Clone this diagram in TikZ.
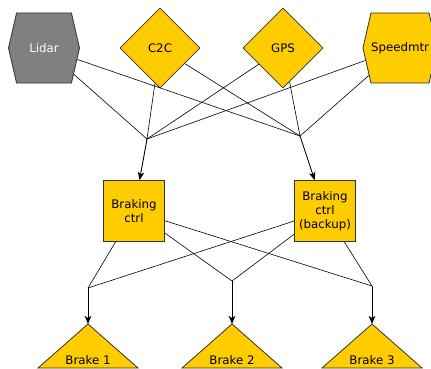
\documentclass[tikz,border=0pt]{standalone}
\usepackage{fontspec}
\setmainfont{DejaVu Sans}
\usetikzlibrary{shapes.geometric,shapes.symbols,arrows.meta}
\definecolor{ylw}{HTML}{FFCC00}
\definecolor{gry}{HTML}{808080}
\definecolor{bord}{HTML}{333333}
\begin{document}
\begin{tikzpicture}[x=1pt,y=-1pt,
  every node/.style={font=\fontsize{11.8}{14}\selectfont, inner sep=0pt},
  sensorhex/.style={shape=signal, signal to=west and east, signal pointer angle=154,
    minimum width=71, minimum height=70, draw=bord, line width=0.8pt},
  diam/.style={diamond, minimum width=80, minimum height=80, aspect=1, fill=ylw, draw=bord, line width=0.8pt},
  ctrl/.style={rectangle, minimum width=61, minimum height=61, fill=ylw, draw=bord, line width=0.8pt, align=center},
  brk/.style={fill=ylw, draw=bord, line width=0.8pt},
  conn/.style={draw=black, line width=0.6pt},
  arr/.style={draw=black, line width=0.9pt, -{Stealth[length=8pt,width=6.5pt,inset=2pt]}}]
\useasboundingbox (0,0) rectangle (431,369);
\clip (0,0) rectangle (431,369);
% sensors
\node[sensorhex, fill=gry, text=white] (lidar) at (44,48) {Lidar};
\node[diam] (c2c) at (160,48) {C2C};
\node[diam] (gps) at (283,48) {GPS};
\node[sensorhex, fill=ylw] (speed) at (400,48) {Speedmtr};
% junctions
\coordinate (j1) at (147,139);
\coordinate (j2) at (300,136);
\coordinate (j3) at (88,288);
\coordinate (j4) at (232,281);
\coordinate (j5) at (372,286);
% controllers
\node[ctrl] (bc) at (134,211) {Braking\\ctrl};
\node[ctrl] (bb) at (325,211) {Braking\\ctrl\\(backup)};
% brakes
\coordinate (b1top) at (88,324);
\coordinate (b2top) at (232,324);
\coordinate (b3top) at (372,324);
\draw[brk] (b1top) -- ++(50,44) -- ++(-100,0) -- cycle;
\draw[brk] (b2top) -- ++(50,44) -- ++(-100,0) -- cycle;
\draw[brk] (b3top) -- ++(50,44) -- ++(-100,0) -- cycle;
\node (b1) at (88,360) {Brake 1};
\node (b2) at (232,360) {Brake 2};
\node (b3) at (372,360) {Brake 3};
% connectors
\foreach \s in {lidar,c2c,gps,speed}{
  \draw[conn] (\s) -- (j1);
  \draw[conn] (\s) -- (j2);
}
\draw[arr] (j1) -- (bc);
\draw[arr] (j2) -- (bb);
\foreach \c in {bc,bb}{
  \draw[conn] (\c) -- (j3);
  \draw[conn] (\c) -- (j4);
  \draw[conn] (\c) -- (j5);
}
\draw[arr] (j3) -- (b1top);
\draw[arr] (j4) -- (b2top);
\draw[arr] (j5) -- (b3top);
\end{tikzpicture}
\end{document}
